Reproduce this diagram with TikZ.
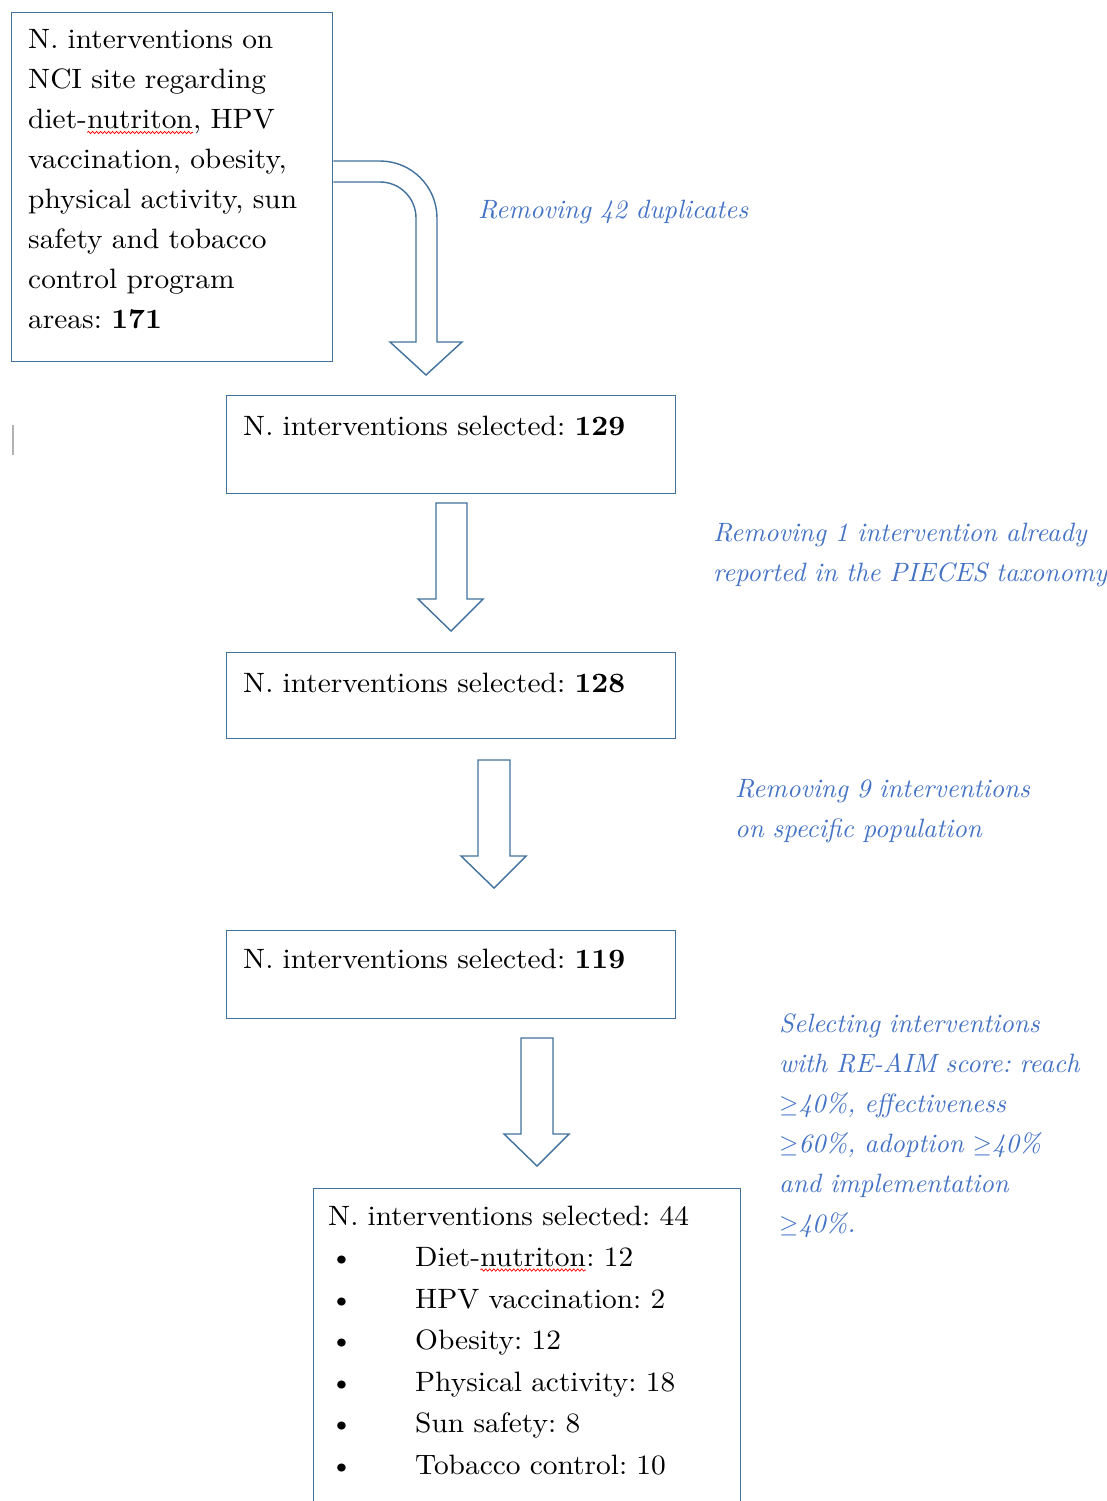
\documentclass[tikz,border=0pt]{standalone}
\usepackage{fontspec}
\setmainfont{lmroman10-regular.otf}[BoldFont=lmroman10-bold.otf, ItalicFont=lmroman10-italic.otf, FakeStretch=1.05]
\newfontfamily\notefont{lmroman10-italic.otf}
\usetikzlibrary{calc,decorations.pathmorphing}
\definecolor{lineblue}{HTML}{41719C}
\definecolor{textblue}{HTML}{4472C4}
\newcommand\redwave[1]{\tikz[baseline=(wv.base)]{\node[inner sep=0pt, outer sep=0pt] (wv) {#1};
  \draw[red, line width=0.7pt, decorate, decoration={snake, amplitude=1.2pt, segment length=4pt}]
  ([yshift=-3.5pt]wv.base west) -- ([yshift=-3.5pt]wv.base east);}}
\tikzset{
  boxnode/.style={draw=lineblue, line width=1.4pt, inner sep=0pt, anchor=north west},
  txt/.style={anchor=base west, inner sep=0pt, align=left, text width=440pt,
    font=\fontsize{28}{40}\selectfont\frenchspacing},
  note/.style={anchor=base west, inner sep=0pt, align=left, text width=440pt, text=textblue,
    font=\notefont\fontsize{26.5}{40}\selectfont\frenchspacing},
  blockarrow/.style={draw=lineblue, line width=1.4pt, fill=white, line join=miter},
}
\begin{document}
\begin{tikzpicture}[x=1pt, y=-1pt]
\useasboundingbox (0,0) rectangle (1107,1501);

% boxes
\node[boxnode, minimum width=321pt, minimum height=349pt] (b1) at (11,12) {};
\node[boxnode, minimum width=449pt, minimum height=98pt] (b2) at (226,395) {};
\node[boxnode, minimum width=449pt, minimum height=86pt] (b3) at (226,652) {};
\node[boxnode, minimum width=449pt, minimum height=88pt] (b4) at (226,930) {};
\node[boxnode, minimum width=427pt, minimum height=330pt] (b5) at (313,1188) {};

% box texts
\node[txt] (t1) at (28,49) {N. interventions on\\
NCI site regarding\\
diet-\redwave{nutriton}, HPV\\
vaccination, obesity,\\
physical activity, sun\\
safety and tobacco\\
control program\\
areas: \textbf{171}};
\node[txt] (t2) at (243,435) {N. interventions selected: \textbf{129}};
\node[txt] (t3) at (243,692) {N. interventions selected: \textbf{128}};
\node[txt] (t4) at (243,968) {N. interventions selected: \textbf{119}};
\node[txt, font=\fontsize{28}{41.5}\selectfont\frenchspacing] (t5) at (328,1225) {N. interventions selected: 44\\
\hspace*{2pt}\makebox[85pt][l]{\textbullet}Diet-\redwave{nutriton}: 12\\
\hspace*{2pt}\makebox[85pt][l]{\textbullet}HPV vaccination: 2\\
\hspace*{2pt}\makebox[85pt][l]{\textbullet}Obesity: 12\\
\hspace*{2pt}\makebox[85pt][l]{\textbullet}Physical activity: 18\\
\hspace*{2pt}\makebox[85pt][l]{\textbullet}Sun safety: 8\\
\hspace*{2pt}\makebox[85pt][l]{\textbullet}Tobacco control: 10};

% side notes
\node[note] (n1) at (478,218) {Removing 42 duplicates};
\node[note] (n2) at (713,541) {Removing 1 intervention already\\reported in the PIECES taxonomy};
\node[note] (n3) at (735,797) {Removing 9 interventions\\on specific population};
\node[note] (n4) at (779,1032) {Selecting interventions\\
with RE-AIM score: reach\\
$\geq$40\%, effectiveness\\
$\geq$60\%, adoption $\geq$40\%\\
and implementation\\
$\geq$40\%.};

% block arrows
\draw[blockarrow] ($(b1.north east)+(0,149)$) -- (380,161)
  arc[start angle=90, end angle=0, radius=57pt] -- (437,342) -- (462,342) -- (426,375)
  -- (390,342) -- (416,342) -- (416,218)
  arc[start angle=0, end angle=90, radius=36pt] -- ($(b1.north east)+(0,170)$);
\draw[blockarrow] (436,503) -- (467,503) -- (467,599) -- (483,599) -- (451,631)
  -- (418,599) -- (436,599) -- cycle;
\draw[blockarrow] (478,760) -- (510,760) -- (510,856) -- (526,856) -- (494,888)
  -- (461,856) -- (478,856) -- cycle;
\draw[blockarrow] (521,1038) -- (553,1038) -- (553,1134) -- (569,1134) -- (537,1166)
  -- (504,1134) -- (521,1134) -- cycle;

% text cursor mark
\draw[gray!60, line width=1.5pt] (13,425) -- (13,455);
\end{tikzpicture}
\end{document}
